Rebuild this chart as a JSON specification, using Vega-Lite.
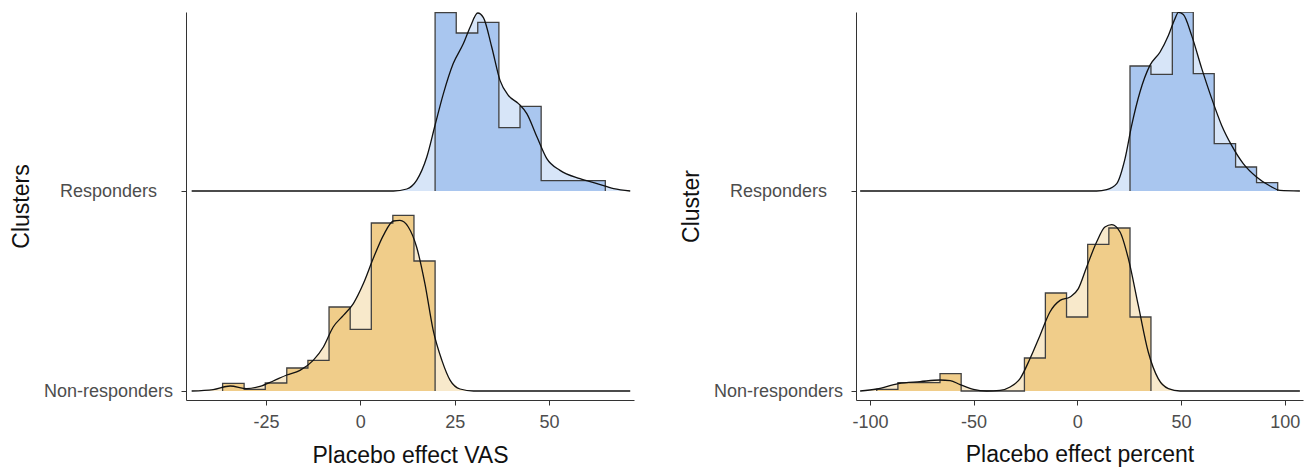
{
  "$schema": "https://vega.github.io/schema/vega-lite/v6.json",
  "background": "white",
  "padding": {"left": 10, "top": 12, "right": 5, "bottom": 5},
  "config": {
    "font": "Liberation Sans",
    "view": {"stroke": null},
    "axis": {
      "grid": false,
      "domainColor": "#333333",
      "tickColor": "#333333",
      "tickSize": 5,
      "labelColor": "#4d4d4d",
      "labelFontSize": 18,
      "titleFontSize": 23,
      "titleFontWeight": "normal",
      "titleColor": "#111111",
      "labelOverlap": false,
      "labelFlush": false
    }
  },
  "datasets": {
    "vas": [
      {"cluster": "Responders", "kind": "dens", "x": -44.7, "y": 2.0},
      {"cluster": "Responders", "kind": "dens", "x": 8.75, "y": 2.0},
      {"cluster": "Responders", "kind": "dens", "x": 12.3, "y": 2.01},
      {"cluster": "Responders", "kind": "dens", "x": 14.9, "y": 2.053},
      {"cluster": "Responders", "kind": "dens", "x": 17.6, "y": 2.17},
      {"cluster": "Responders", "kind": "dens", "x": 19.8, "y": 2.33},
      {"cluster": "Responders", "kind": "dens", "x": 22.0, "y": 2.487},
      {"cluster": "Responders", "kind": "dens", "x": 24.6, "y": 2.637},
      {"cluster": "Responders", "kind": "dens", "x": 27.3, "y": 2.737},
      {"cluster": "Responders", "kind": "dens", "x": 29.1, "y": 2.82},
      {"cluster": "Responders", "kind": "dens", "x": 31.1, "y": 2.89},
      {"cluster": "Responders", "kind": "dens", "x": 32.6, "y": 2.867},
      {"cluster": "Responders", "kind": "dens", "x": 34.8, "y": 2.72},
      {"cluster": "Responders", "kind": "dens", "x": 37.0, "y": 2.553},
      {"cluster": "Responders", "kind": "dens", "x": 39.2, "y": 2.478},
      {"cluster": "Responders", "kind": "dens", "x": 41.9, "y": 2.437},
      {"cluster": "Responders", "kind": "dens", "x": 44.1, "y": 2.387},
      {"cluster": "Responders", "kind": "dens", "x": 46.8, "y": 2.27},
      {"cluster": "Responders", "kind": "dens", "x": 49.4, "y": 2.162},
      {"cluster": "Responders", "kind": "dens", "x": 52.9, "y": 2.103},
      {"cluster": "Responders", "kind": "dens", "x": 58.2, "y": 2.062},
      {"cluster": "Responders", "kind": "dens", "x": 62.7, "y": 2.037},
      {"cluster": "Responders", "kind": "dens", "x": 67.1, "y": 2.012},
      {"cluster": "Responders", "kind": "dens", "x": 71.5, "y": 2.0},
      {"cluster": "Responders", "kind": "hist", "x": 19.8, "y": 2.0},
      {"cluster": "Responders", "kind": "hist", "x": 19.8, "y": 2.892},
      {"cluster": "Responders", "kind": "hist", "x": 25.4, "y": 2.79},
      {"cluster": "Responders", "kind": "hist", "x": 31.1, "y": 2.843},
      {"cluster": "Responders", "kind": "hist", "x": 36.7, "y": 2.317},
      {"cluster": "Responders", "kind": "hist", "x": 42.3, "y": 2.423},
      {"cluster": "Responders", "kind": "hist", "x": 47.9, "y": 2.052},
      {"cluster": "Responders", "kind": "hist", "x": 53.5, "y": 2.052},
      {"cluster": "Responders", "kind": "hist", "x": 59.2, "y": 2.052},
      {"cluster": "Responders", "kind": "hist", "x": 64.9, "y": 2.0},
      {"cluster": "Non-responders", "kind": "dens", "x": -44.7, "y": 1.0},
      {"cluster": "Non-responders", "kind": "dens", "x": -39.0, "y": 1.007},
      {"cluster": "Non-responders", "kind": "dens", "x": -34.5, "y": 1.025},
      {"cluster": "Non-responders", "kind": "dens", "x": -30.1, "y": 1.012},
      {"cluster": "Non-responders", "kind": "dens", "x": -26.6, "y": 1.023},
      {"cluster": "Non-responders", "kind": "dens", "x": -23.1, "y": 1.05},
      {"cluster": "Non-responders", "kind": "dens", "x": -19.5, "y": 1.08},
      {"cluster": "Non-responders", "kind": "dens", "x": -16.0, "y": 1.103},
      {"cluster": "Non-responders", "kind": "dens", "x": -12.5, "y": 1.153},
      {"cluster": "Non-responders", "kind": "dens", "x": -9.8, "y": 1.22},
      {"cluster": "Non-responders", "kind": "dens", "x": -7.2, "y": 1.32},
      {"cluster": "Non-responders", "kind": "dens", "x": -4.5, "y": 1.378},
      {"cluster": "Non-responders", "kind": "dens", "x": -1.86, "y": 1.437},
      {"cluster": "Non-responders", "kind": "dens", "x": 0.8, "y": 1.537},
      {"cluster": "Non-responders", "kind": "dens", "x": 3.4, "y": 1.662},
      {"cluster": "Non-responders", "kind": "dens", "x": 6.1, "y": 1.778},
      {"cluster": "Non-responders", "kind": "dens", "x": 8.75, "y": 1.85},
      {"cluster": "Non-responders", "kind": "dens", "x": 10.5, "y": 1.853},
      {"cluster": "Non-responders", "kind": "dens", "x": 12.7, "y": 1.82},
      {"cluster": "Non-responders", "kind": "dens", "x": 14.9, "y": 1.72},
      {"cluster": "Non-responders", "kind": "dens", "x": 17.1, "y": 1.537},
      {"cluster": "Non-responders", "kind": "dens", "x": 19.3, "y": 1.303},
      {"cluster": "Non-responders", "kind": "dens", "x": 21.6, "y": 1.153},
      {"cluster": "Non-responders", "kind": "dens", "x": 23.8, "y": 1.053},
      {"cluster": "Non-responders", "kind": "dens", "x": 26.4, "y": 1.01},
      {"cluster": "Non-responders", "kind": "dens", "x": 30.0, "y": 1.0},
      {"cluster": "Non-responders", "kind": "dens", "x": 71.5, "y": 1.0},
      {"cluster": "Non-responders", "kind": "hist", "x": -36.5, "y": 1.0},
      {"cluster": "Non-responders", "kind": "hist", "x": -36.5, "y": 1.038},
      {"cluster": "Non-responders", "kind": "hist", "x": -30.8, "y": 1.008},
      {"cluster": "Non-responders", "kind": "hist", "x": -25.2, "y": 1.04},
      {"cluster": "Non-responders", "kind": "hist", "x": -19.5, "y": 1.115},
      {"cluster": "Non-responders", "kind": "hist", "x": -13.9, "y": 1.153},
      {"cluster": "Non-responders", "kind": "hist", "x": -8.3, "y": 1.42},
      {"cluster": "Non-responders", "kind": "hist", "x": -2.7, "y": 1.308},
      {"cluster": "Non-responders", "kind": "hist", "x": 2.9, "y": 1.84},
      {"cluster": "Non-responders", "kind": "hist", "x": 8.6, "y": 1.878},
      {"cluster": "Non-responders", "kind": "hist", "x": 14.2, "y": 1.65},
      {"cluster": "Non-responders", "kind": "hist", "x": 19.8, "y": 1.0}
    ],
    "pct": [
      {"cluster": "Responders", "kind": "dens", "x": -104.7, "y": 2.0},
      {"cluster": "Responders", "kind": "dens", "x": 9.3, "y": 2.0},
      {"cluster": "Responders", "kind": "dens", "x": 14.2, "y": 2.007},
      {"cluster": "Responders", "kind": "dens", "x": 19.0, "y": 2.037},
      {"cluster": "Responders", "kind": "dens", "x": 23.0, "y": 2.162},
      {"cluster": "Responders", "kind": "dens", "x": 26.2, "y": 2.328},
      {"cluster": "Responders", "kind": "dens", "x": 30.2, "y": 2.495},
      {"cluster": "Responders", "kind": "dens", "x": 35.0, "y": 2.628},
      {"cluster": "Responders", "kind": "dens", "x": 39.9, "y": 2.695},
      {"cluster": "Responders", "kind": "dens", "x": 43.9, "y": 2.778},
      {"cluster": "Responders", "kind": "dens", "x": 47.1, "y": 2.862},
      {"cluster": "Responders", "kind": "dens", "x": 48.7, "y": 2.893},
      {"cluster": "Responders", "kind": "dens", "x": 51.1, "y": 2.882},
      {"cluster": "Responders", "kind": "dens", "x": 55.1, "y": 2.778},
      {"cluster": "Responders", "kind": "dens", "x": 60.0, "y": 2.612},
      {"cluster": "Responders", "kind": "dens", "x": 64.8, "y": 2.462},
      {"cluster": "Responders", "kind": "dens", "x": 69.6, "y": 2.328},
      {"cluster": "Responders", "kind": "dens", "x": 74.4, "y": 2.228},
      {"cluster": "Responders", "kind": "dens", "x": 80.0, "y": 2.137},
      {"cluster": "Responders", "kind": "dens", "x": 86.4, "y": 2.07},
      {"cluster": "Responders", "kind": "dens", "x": 92.9, "y": 2.025},
      {"cluster": "Responders", "kind": "dens", "x": 97.7, "y": 2.003},
      {"cluster": "Responders", "kind": "dens", "x": 107.3, "y": 2.0},
      {"cluster": "Responders", "kind": "hist", "x": 25.4, "y": 2.0},
      {"cluster": "Responders", "kind": "hist", "x": 25.4, "y": 2.625},
      {"cluster": "Responders", "kind": "hist", "x": 35.5, "y": 2.583},
      {"cluster": "Responders", "kind": "hist", "x": 45.8, "y": 2.894},
      {"cluster": "Responders", "kind": "hist", "x": 55.9, "y": 2.587},
      {"cluster": "Responders", "kind": "hist", "x": 66.0, "y": 2.237},
      {"cluster": "Responders", "kind": "hist", "x": 76.3, "y": 2.12},
      {"cluster": "Responders", "kind": "hist", "x": 86.4, "y": 2.042},
      {"cluster": "Responders", "kind": "hist", "x": 96.6, "y": 2.0},
      {"cluster": "Non-responders", "kind": "dens", "x": -104.7, "y": 1.0},
      {"cluster": "Non-responders", "kind": "dens", "x": -96.7, "y": 1.01},
      {"cluster": "Non-responders", "kind": "dens", "x": -86.3, "y": 1.037},
      {"cluster": "Non-responders", "kind": "dens", "x": -75.8, "y": 1.047},
      {"cluster": "Non-responders", "kind": "dens", "x": -66.2, "y": 1.055},
      {"cluster": "Non-responders", "kind": "dens", "x": -61.3, "y": 1.052},
      {"cluster": "Non-responders", "kind": "dens", "x": -56.5, "y": 1.032},
      {"cluster": "Non-responders", "kind": "dens", "x": -50.1, "y": 1.008},
      {"cluster": "Non-responders", "kind": "dens", "x": -43.7, "y": 1.0},
      {"cluster": "Non-responders", "kind": "dens", "x": -37.3, "y": 1.003},
      {"cluster": "Non-responders", "kind": "dens", "x": -32.4, "y": 1.02},
      {"cluster": "Non-responders", "kind": "dens", "x": -27.6, "y": 1.062},
      {"cluster": "Non-responders", "kind": "dens", "x": -22.8, "y": 1.162},
      {"cluster": "Non-responders", "kind": "dens", "x": -18.0, "y": 1.278},
      {"cluster": "Non-responders", "kind": "dens", "x": -13.2, "y": 1.395},
      {"cluster": "Non-responders", "kind": "dens", "x": -8.3, "y": 1.453},
      {"cluster": "Non-responders", "kind": "dens", "x": -3.5, "y": 1.47},
      {"cluster": "Non-responders", "kind": "dens", "x": 0.5, "y": 1.512},
      {"cluster": "Non-responders", "kind": "dens", "x": 4.5, "y": 1.62},
      {"cluster": "Non-responders", "kind": "dens", "x": 9.3, "y": 1.745},
      {"cluster": "Non-responders", "kind": "dens", "x": 13.3, "y": 1.82},
      {"cluster": "Non-responders", "kind": "dens", "x": 16.6, "y": 1.832},
      {"cluster": "Non-responders", "kind": "dens", "x": 20.6, "y": 1.795},
      {"cluster": "Non-responders", "kind": "dens", "x": 24.6, "y": 1.662},
      {"cluster": "Non-responders", "kind": "dens", "x": 29.4, "y": 1.428},
      {"cluster": "Non-responders", "kind": "dens", "x": 34.2, "y": 1.195},
      {"cluster": "Non-responders", "kind": "dens", "x": 39.0, "y": 1.062},
      {"cluster": "Non-responders", "kind": "dens", "x": 43.9, "y": 1.012},
      {"cluster": "Non-responders", "kind": "dens", "x": 49.5, "y": 1.0},
      {"cluster": "Non-responders", "kind": "dens", "x": 107.3, "y": 1.0},
      {"cluster": "Non-responders", "kind": "hist", "x": -96.7, "y": 1.0},
      {"cluster": "Non-responders", "kind": "hist", "x": -96.7, "y": 1.008},
      {"cluster": "Non-responders", "kind": "hist", "x": -86.5, "y": 1.042},
      {"cluster": "Non-responders", "kind": "hist", "x": -76.4, "y": 1.042},
      {"cluster": "Non-responders", "kind": "hist", "x": -66.2, "y": 1.087},
      {"cluster": "Non-responders", "kind": "hist", "x": -56.0, "y": 1.0},
      {"cluster": "Non-responders", "kind": "hist", "x": -45.9, "y": 1.0},
      {"cluster": "Non-responders", "kind": "hist", "x": -35.7, "y": 1.0},
      {"cluster": "Non-responders", "kind": "hist", "x": -25.5, "y": 1.165},
      {"cluster": "Non-responders", "kind": "hist", "x": -15.4, "y": 1.49},
      {"cluster": "Non-responders", "kind": "hist", "x": -5.2, "y": 1.37},
      {"cluster": "Non-responders", "kind": "hist", "x": 5.0, "y": 1.733},
      {"cluster": "Non-responders", "kind": "hist", "x": 15.2, "y": 1.815},
      {"cluster": "Non-responders", "kind": "hist", "x": 25.4, "y": 1.37},
      {"cluster": "Non-responders", "kind": "hist", "x": 35.5, "y": 1.0}
    ]
  },
  "hconcat": [
    {
      "width": 448,
      "height": 388,
      "data": {"name": "vas"},
      "encoding": {
        "x": {"field": "x", "type": "quantitative", "scale": {"domain": [-46.2, 72.5], "nice": false, "zero": false},
              "axis": {"values": [-25, 0, 25, 50], "labelExpr": "'' + datum.value", "title": "Placebo effect VAS", "labelPadding": 8, "titleY": 62, "titleBaseline": "alphabetic"}},
        "y": {"field": "y", "type": "quantitative", "stack": null, "scale": {"domain": [0.955, 2.895], "nice": false, "zero": false},
              "axis": {"values": [1, 2], "labelExpr": "datum.value == 2 ? 'Responders' : 'Non-responders'", "labelAlign": "center", "labelBaseline": "middle", "labelPadding": 73, "title": "Clusters", "titleX": -158, "titleBaseline": "alphabetic"}}
      },
      "layer": [
        {"transform": [{"filter": "datum.kind == 'dens' && datum.cluster == 'Responders'"}], "mark": {"type": "area", "color": "#d7e5f8", "clip": true}, "encoding": {"y2": {"datum": 2}}},
        {"transform": [{"filter": "datum.kind == 'dens' && datum.cluster == 'Non-responders'"}], "mark": {"type": "area", "color": "#f8e9cb", "clip": true}, "encoding": {"y2": {"datum": 1}}},
        {"transform": [{"filter": "datum.kind == 'hist' && datum.cluster == 'Responders'"}], "mark": {"type": "area", "color": "#a9c6ef", "interpolate": "step-after", "clip": true}, "encoding": {"y2": {"datum": 2}, "order": {"value": null}}},
        {"transform": [{"filter": "datum.kind == 'hist' && datum.cluster == 'Non-responders'"}], "mark": {"type": "area", "color": "#f0cd8a", "interpolate": "step-after", "clip": true}, "encoding": {"y2": {"datum": 1}, "order": {"value": null}}},
        {"transform": [{"filter": "datum.kind == 'hist'"}], "mark": {"type": "line", "color": "#404040", "strokeWidth": 1.3, "interpolate": "step-after", "clip": true}, "encoding": {"detail": {"field": "cluster"}, "order": {"value": null}}},
        {"transform": [{"filter": "datum.kind == 'dens'"}], "mark": {"type": "line", "color": "#111111", "strokeWidth": 1.3, "interpolate": "monotone", "clip": true}, "encoding": {"detail": {"field": "cluster"}}}
      ]
    },
    {
      "width": 447,
      "height": 388,
      "data": {"name": "pct"},
      "encoding": {
        "x": {"field": "x", "type": "quantitative", "scale": {"domain": [-106.7, 108.8], "nice": false, "zero": false},
              "axis": {"values": [-100, -50, 0, 50, 100], "labelExpr": "'' + datum.value", "title": "Placebo effect percent", "labelPadding": 8, "titleY": 61, "titleBaseline": "alphabetic"}},
        "y": {"field": "y", "type": "quantitative", "stack": null, "scale": {"domain": [0.955, 2.895], "nice": false, "zero": false},
              "axis": {"values": [1, 2], "labelExpr": "datum.value == 2 ? 'Responders' : 'Non-responders'", "labelAlign": "center", "labelBaseline": "middle", "labelPadding": 73, "title": "Cluster", "titleX": -158, "titleBaseline": "alphabetic"}}
      },
      "layer": [
        {"transform": [{"filter": "datum.kind == 'dens' && datum.cluster == 'Responders'"}], "mark": {"type": "area", "color": "#d7e5f8", "clip": true}, "encoding": {"y2": {"datum": 2}}},
        {"transform": [{"filter": "datum.kind == 'dens' && datum.cluster == 'Non-responders'"}], "mark": {"type": "area", "color": "#f8e9cb", "clip": true}, "encoding": {"y2": {"datum": 1}}},
        {"transform": [{"filter": "datum.kind == 'hist' && datum.cluster == 'Responders'"}], "mark": {"type": "area", "color": "#a9c6ef", "interpolate": "step-after", "clip": true}, "encoding": {"y2": {"datum": 2}, "order": {"value": null}}},
        {"transform": [{"filter": "datum.kind == 'hist' && datum.cluster == 'Non-responders'"}], "mark": {"type": "area", "color": "#f0cd8a", "interpolate": "step-after", "clip": true}, "encoding": {"y2": {"datum": 1}, "order": {"value": null}}},
        {"transform": [{"filter": "datum.kind == 'hist'"}], "mark": {"type": "line", "color": "#404040", "strokeWidth": 1.3, "interpolate": "step-after", "clip": true}, "encoding": {"detail": {"field": "cluster"}, "order": {"value": null}}},
        {"transform": [{"filter": "datum.kind == 'dens'"}], "mark": {"type": "line", "color": "#111111", "strokeWidth": 1.3, "interpolate": "monotone", "clip": true}, "encoding": {"detail": {"field": "cluster"}}}
      ]
    }
  ],
  "spacing": 222,
  "bounds": "flush"
}
